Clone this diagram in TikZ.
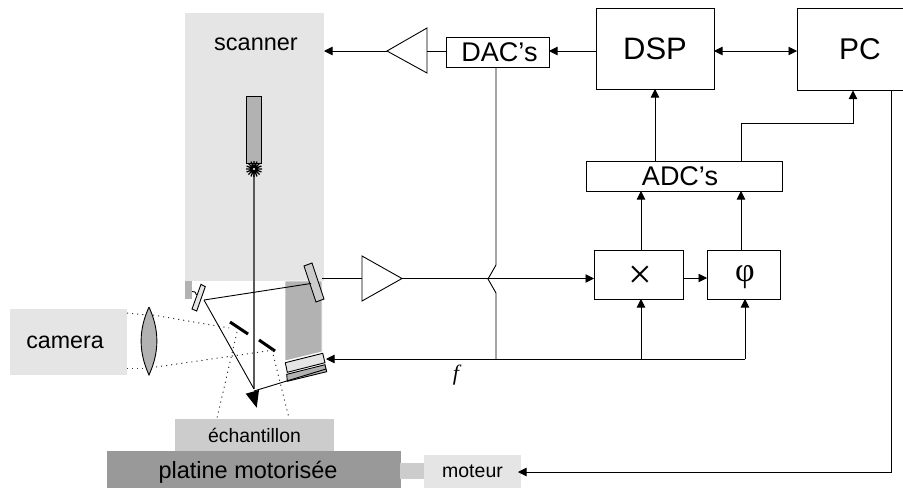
\documentclass[tikz,border=0pt]{standalone}
\usepackage{fontspec}
\setmainfont{Liberation Sans}
\newfontfamily\serifsym{Liberation Serif}
\usetikzlibrary{arrows.meta}
\definecolor{panelA}{gray}{0.9}
\definecolor{panelB}{gray}{0.8}
\definecolor{panelC}{gray}{0.7}
\definecolor{panelD}{gray}{0.6}
\newcommand{\fs}[1]{\fontsize{#1}{#1}\selectfont}

\begin{document}
\begin{tikzpicture}[x=1pt, y=-1pt, line width=0.9pt,
      block/.style={rectangle, draw, inner sep=0pt, outer sep=0pt},
      panel/.style={rectangle, inner sep=0pt, outer sep=0pt},
      caption/.style={inner sep=0pt, outer sep=0pt},
      sig/.style={-{Triangle[length=8.5pt,width=8.5pt]}},
      sigboth/.style={{Triangle[length=8.5pt,width=8.5pt]}-{Triangle[length=8.5pt,width=8.5pt]}},
      light/.style={dash pattern=on 1.1pt off 4pt, line width=1pt, black!80}]
      \useasboundingbox (0,0) rectangle (903,488);
      % optical head
      \node[panel,fill=panelA,minimum width=139pt,minimum height=268pt](scanner) at (254.5,147){};
      \node[caption](scannertext) at (256,44){\fs{23.5}scanner};
      \node[panel,fill=panelC,minimum width=7pt,minimum height=18pt](tab) at (188.5,290){};
      \node[panel,fill=panelA,minimum width=117pt,minimum height=66pt](camera) at (68.5,342){};
      \node[caption](cameratext) at (65,342){\fs{23.2}camera};
      \node[panel,fill=panelB,minimum width=159pt,minimum height=32pt](sample) at (254.5,435){\fs{19.4}échantillon};
      \node[panel,fill=panelD,minimum width=294pt,minimum height=37pt](stage) at (254,469.5){};
      \node[caption](stagetext) at (248,472){\fs{23.5}platine motorisée};
      \node[panel,fill=panelB,minimum width=25pt,minimum height=16pt](coupling) at (412.5,471){};
      \node[panel,fill=panelA,minimum width=97pt,minimum height=33pt](motor) at (472.5,471.5){\fs{19.5}moteur};
      \node[block,fill=panelC,minimum width=15pt,minimum height=67pt](probe) at (253.5,129.5){};
      \coordinate(spark) at (254,169);
      \coordinate(tip) at (254,389);
      \coordinate(spot) at (204,300);
      \coordinate(bigmirror) at (311,283.5);
      \coordinate(piezo) at (326,369);
      \fill[panelC,draw=white] (285,281) -- (322,281) -- (322,352) -- (285,361) -- cycle;
      \draw[fill=panelA] (285.3,362.7) -- (322.7,353.3) -- (325,362.7) -- (287.3,372.3) -- cycle;
      \draw[fill=panelC] (286.7,374.3) -- (325,364.7) -- (326.7,371.7) -- (287.3,381.3) -- cycle;
      \draw[fill=panelB] (304,266) -- (312,263) -- (324,299) -- (316,302) -- cycle;
      \draw[fill=panelA] (201,284.3) -- (205.3,286.7) -- (196.7,311) -- (192,309) -- cycle;
      \draw (192,291.5) .. controls (195,291.5) .. (196.5,295);
      \fill (245.7,393.7) -- (259,390) -- (256.7,407.7) -- cycle;
      \draw[fill=panelC] (149,307) .. controls (138.5,330) and (138.5,352) .. (149,375) .. controls (159.5,352) and (159.5,330) .. (149,307);
      \draw[line width=3pt] (230,322) -- (248,334);
      \draw[line width=3pt] (259,340) -- (275,351);
      % light paths
      \draw[light] (127,313) -- (146,315);
      \draw[light] (153,315) -- (229,328);
      \draw[light] (127,368) -- (143,368);
      \draw[light] (156,367) -- (274,350);
      \draw[light] (237,332) -- (217,418);
      \draw[light] (272,350) -- (289,418);
      \draw[black!65,line width=1.1pt] (spark) -- (tip);
      \draw (spot) -- (bigmirror);
      \draw (spot) -- (tip);
      \draw (254,391) -- (piezo);
      \draw[line width=1.3pt] (spark) ++(-8,0) -- +(16,0) (spark) ++(0,-8) -- +(0,16)
        (spark) ++(-5.6,-5.6) -- +(11.2,11.2) (spark) ++(-5.6,5.6) -- +(11.2,-11.2)
        (spark) ++(-7.4,-3) -- +(14.8,6) (spark) ++(-7.4,3) -- +(14.8,-6)
        (spark) ++(-3,-7.4) -- +(6,14.8) (spark) ++(-3,7.4) -- +(6,-14.8);
      \fill[white] (spark) circle (1.2);
      % electronics
      \node[block,minimum width=118pt,minimum height=81pt](dsp) at (655,48.5){\fs{31}DSP};
      \node[block,minimum width=126pt,minimum height=82pt](pc) at (860,49.5){\fs{30}PC};
      \node[block,minimum width=103pt,minimum height=30pt](dac) at (497.5,52){};
      \node[caption](dactext) at (499.5,52.5){\fs{27}DAC’s};
      \node[block,minimum width=196pt,minimum height=30pt](adc) at (684,176){};
      \node[caption](adctext) at (680,176.5){\fs{27}ADC’s};
      \node[block,minimum width=89pt,minimum height=49pt](mult) at (638.5,274.5){};
      \node[caption](multtext) at (640,277){\serifsym\fs{42}×};
      \node[block,minimum width=73pt,minimum height=49pt](phase) at (743.5,274.5){};
      \node[caption](phasetext) at (745,277){\serifsym\fs{34}φ};
      \node[caption](freq) at (456,375){\serifsym\itshape\fs{22}f};
      \coordinate(busy) at (0,51);
      \coordinate(link) at (0,278);
      \coordinate(dacbase) at (427,51);
      \coordinate(dacapex) at (387,51);
      \coordinate(detbase) at (362,278.5);
      \coordinate(detapex) at (402,278.5);
      \coordinate(detin) at (322,278.5);
      \coordinate(hoptop) at (496,265);
      \coordinate(hopmid) at (488,279);
      \coordinate(hopbot) at (496,293);
      \coordinate(fjoin) at (496,359);
      \coordinate(fmult) at (641,359);
      \coordinate(fphase) at (745,359);
      \coordinate(piezoin) at (326,359);
      \coordinate(pcturn) at (741,123);
      \coordinate(pcin) at (853,123);
      \coordinate(pcdown) at (891,472);
      \coordinate(motorin) at (518,472);
      \draw (dacbase) -- (427,28) -- (dacapex) -- (427,73) -- cycle;
      \draw (detbase) -- (362,256) -- (detapex) -- (362,301) -- cycle;
      \draw (dsp.east |- busy) edge[sigboth] (pc.west |- busy);
      \draw (dsp.west |- busy) edge[sig] (dac.east |- busy);
      \draw (dac.west |- busy) edge (dacbase);
      \draw (dacapex) edge[sig] (scanner.east |- busy);
      \draw (dac.south -| hoptop) -- (hoptop) -- (hopmid) -- (hopbot) -- (fjoin);
      \draw (detin) edge (detbase);
      \draw (detapex) edge[sig] (mult.west |- detapex);
      \draw (mult.east |- link) edge[sig] (phase.west |- link);
      \draw (mult.north -| fmult) edge[sig] (adc.south -| fmult);
      \draw (phase.north -| pcturn) edge[sig] (adc.south -| pcturn);
      \draw[sig] (fphase) -- (piezoin);
      \draw (fmult) edge[sig] (mult.south -| fmult);
      \draw (fphase) edge[sig] (phase.south -| fphase);
      \draw (adc.north -| dsp) edge[sig] (dsp.south);
      \draw[sig] (adc.north -| pcturn) -- (pcturn) -- (pcin) -- (pc.south -| pcin);
      \draw[sig] (pc.south -| pcdown) -- (pcdown) -- (motorin);
    \end{tikzpicture}
\end{document}
